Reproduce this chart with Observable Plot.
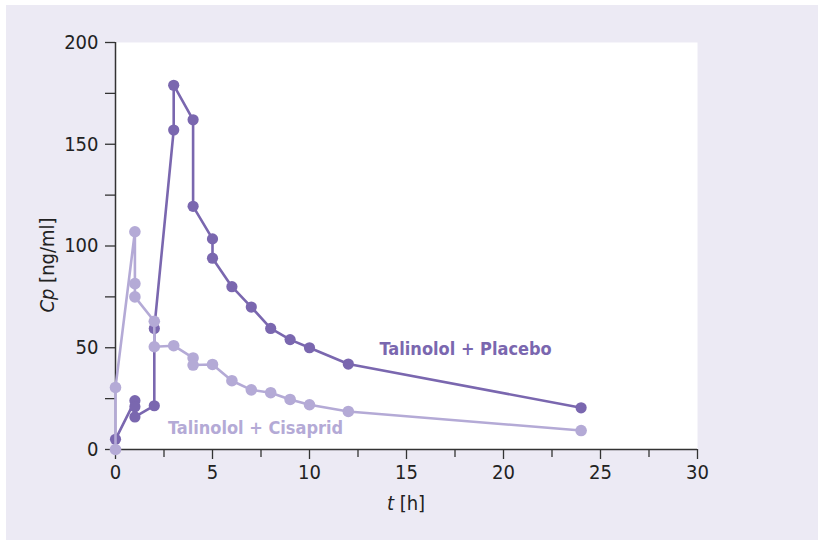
<!DOCTYPE html>
<html><head><meta charset="utf-8">
<script src="https://cdn.jsdelivr.net/npm/d3@7"></script>
<script src="https://cdn.jsdelivr.net/npm/@observablehq/plot@0.6"></script>
<style>
body{margin:0;background:#fff;}
#bg{position:absolute;left:6px;top:5px;width:812px;height:535px;background:#ECEAF4;}
#chart{position:absolute;left:0;top:0;}
</style></head><body><div id="bg"></div><div id="chart"></div>
<script>
// Data
const tPlacebo  = [0, 1, 1, 1, 2, 2, 3, 3, 4, 4, 5, 5, 6, 7, 8, 9, 10, 12, 24];
const cpPlacebo = [5, 24, 21, 16, 21.5, 59.5, 157, 179, 162, 119.5, 103.5, 94, 80, 70, 59.5, 54, 50, 42, 20.5];
const tCisaprid  = [0, 0, 1, 1, 1, 2, 2, 3, 4, 4, 5, 6, 7, 8, 9, 10, 12, 24];
const cpCisaprid = [0, 30.5, 107, 81.5, 75, 63, 50.5, 51, 45, 41.5, 41.8, 33.8, 29.3, 27.9, 24.6, 22, 18.7, 9.3];
const seriesNames = ["Talinolol + Placebo", "Talinolol + Cisaprid"];
const xMajorTicks = [0, 5, 10, 15, 20, 25, 30];
const xMinorTicks = [2.5, 7.5, 12.5, 17.5, 22.5, 27.5];
const yMajorTicks = [0, 50, 100, 150, 200];
const yMinorTicks = [25, 75, 125, 175];

const placebo = tPlacebo.map((t, i) => ({t, cp: cpPlacebo[i]}));
const cisaprid = tCisaprid.map((t, i) => ({t, cp: cpCisaprid[i]}));

const dark = "#7A67AF";
const light = "#B4AAD6";
const axisColor = "#333";
const font = "'Liberation Sans Narrow','DejaVu Sans Condensed','Open Sans',sans-serif";

const plot = Plot.plot({
  width: 818, height: 540,
  marginLeft: 115, marginRight: 121, marginTop: 42, marginBottom: 91,
  style: {background: "transparent", fontFamily: font, fontSize: "20px", color: "#222"},
  x: {domain: [0, 30]},
  y: {domain: [0, 200]},
  marks: [
    Plot.frame({fill: "white", stroke: null}),
    Plot.axisX({ticks: xMajorTicks, tickSize: 10, tickPadding: 5, label: null, stroke: axisColor, strokeWidth: 1.3, fontSize: 20}),
    Plot.axisX({ticks: xMinorTicks, tickSize: 8, tickFormat: () => "", label: null, stroke: axisColor, strokeWidth: 1.3}),
    Plot.axisY({ticks: yMajorTicks, tickSize: 10, tickPadding: 7, label: null, stroke: axisColor, strokeWidth: 1.3, fontSize: 20}),
    Plot.axisY({ticks: yMinorTicks, tickSize: 10, tickFormat: () => "", label: null, stroke: axisColor, strokeWidth: 1.3}),
    Plot.ruleX([0], {stroke: axisColor, strokeWidth: 1.5}),
    Plot.ruleY([0], {stroke: axisColor, strokeWidth: 1.5}),
    Plot.line(placebo, {x: "t", y: "cp", stroke: dark, strokeWidth: 2.6, curve: "linear"}),
    Plot.dot(placebo, {x: "t", y: "cp", r: 5.6, fill: dark}),
    Plot.line(cisaprid, {x: "t", y: "cp", stroke: light, strokeWidth: 2.6, curve: "linear"}),
    Plot.dot(cisaprid, {x: "t", y: "cp", r: 5.8, fill: light}),
    Plot.text([seriesNames[0]], {x: [18.05], y: [49.2], text: d => d, fill: dark, fontSize: 18, fontWeight: "bold", textAnchor: "middle"}),
    Plot.text([seriesNames[1]], {x: [7.22], y: [10.3], text: d => d, fill: light, fontSize: 18, fontWeight: "bold", textAnchor: "middle"})
  ]
});
document.getElementById("chart").appendChild(plot);

// Axis titles with italic symbols
const svg = d3.select(plot);
const xl = svg.append("text").attr("x", 406).attr("y", 510).attr("text-anchor", "middle")
  .attr("font-size", 20).attr("fill", "#222").attr("font-family", font);
xl.append("tspan").attr("font-style", "italic").text("t");
xl.append("tspan").text(" [h]");
const yl = svg.append("text").attr("transform", "translate(54,265) rotate(-90)").attr("text-anchor", "middle")
  .attr("font-size", 20).attr("fill", "#222").attr("font-family", font);
yl.append("tspan").attr("font-style", "italic").text("Cp");
yl.append("tspan").text(" [ng/ml]");
</script></body></html>
